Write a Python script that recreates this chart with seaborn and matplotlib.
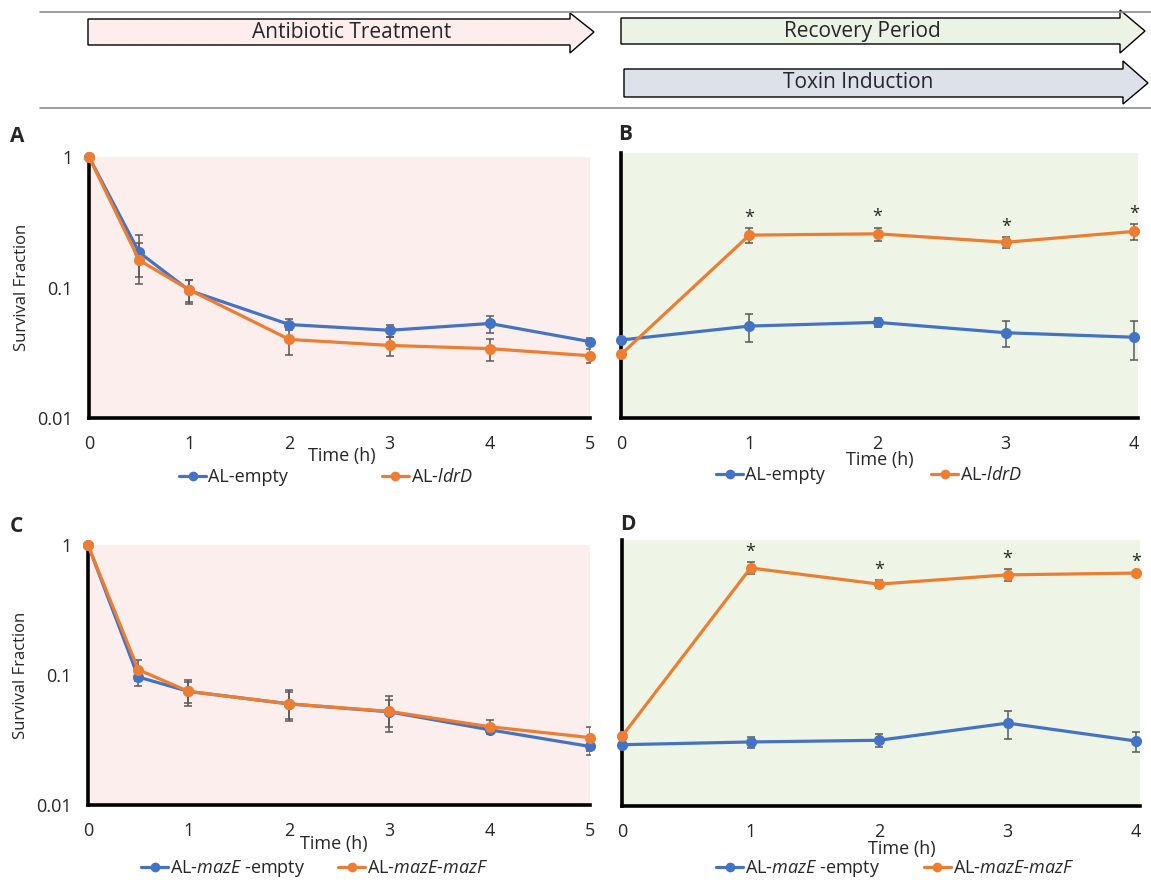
import numpy as np
import pandas as pd
import matplotlib
matplotlib.use('Agg')
import matplotlib.pyplot as plt
from matplotlib.patches import Polygon
from matplotlib.lines import Line2D
from matplotlib.ticker import FixedLocator, NullLocator
import seaborn as sns

sns.set_theme(style='white')
plt.rcParams['font.family'] = ['Open Sans', 'DejaVu Sans']
plt.rcParams['mathtext.fontset'] = 'custom'
plt.rcParams['mathtext.rm'] = 'Open Sans'
plt.rcParams['mathtext.it'] = 'Open Sans:italic'

# 時間點
t_treat = [0, 0.5, 1, 2, 3, 4, 5]
t_recov = [0, 1, 2, 3, 4]

# A: 抗生素處理 (ldrD)
a_empty = [1.0, 0.186, 0.095, 0.052, 0.047, 0.053, 0.0385]
a_empty_err = [0.0, 0.065, 0.02, 0.005, 0.005, 0.008, 0.0025]
a_ldrd = [1.0, 0.162, 0.096, 0.040, 0.036, 0.034, 0.030]
a_ldrd_err = [0.0, 0.056, 0.018, 0.0095, 0.006, 0.0065, 0.0038]

# B: 恢復期 (ldrD)
b_empty = [0.0388, 0.0494, 0.0527, 0.044, 0.0407]
b_empty_err = [0.0, 0.012, 0.004, 0.0095, 0.0135]
b_ldrd = [0.0302, 0.240, 0.2455, 0.212, 0.256]
b_ldrd_err = [0.0, 0.03, 0.027, 0.02, 0.034]

# C: 抗生素處理 (mazE/mazF)
c_empty = [1.0, 0.0966, 0.0748, 0.060, 0.0521, 0.0379, 0.0282]
c_empty_err = [0.0, 0.015, 0.014, 0.016, 0.012, 0.003, 0.004]
c_mazf = [1.0, 0.110, 0.0748, 0.060, 0.0525, 0.040, 0.033]
c_mazf_err = [0.0, 0.02, 0.017, 0.014, 0.016, 0.005, 0.007]

# D: 恢復期 (mazE/mazF)
d_empty = [0.0289, 0.0303, 0.0312, 0.042, 0.0308]
d_empty_err = [0.0, 0.003, 0.0035, 0.010, 0.0055]
d_mazf = [0.0335, 0.616, 0.466, 0.547, 0.564]
d_mazf_err = [0.0, 0.065, 0.033, 0.058, 0.01]

# 顯著差異標記 (*)
b_sig = [False, True, True, True, True]
d_sig = [False, True, True, True, True]

lbl_ldrd = ['AL-empty', 'AL-$\\mathit{ldrD}$']
lbl_maz = ['AL-$\\mathit{mazE}$ -empty', 'AL-$\\mathit{mazE}$-$\\mathit{mazF}$']

BLUE = '#4472C4'
ORANGE = '#ED7D31'
PINK = '#FDEEEE'
GREEN = '#EEF5E6'

fig = plt.figure(figsize=(11.51, 8.8), dpi=100)
W, H = 1151, 880


def px_axes(l, r, t, b):
    return fig.add_axes([l / W, 1 - b / H, (r - l) / W, (b - t) / H])


def draw_panel(ax, t, s1, e1, s2, e2, labels, bg, xmax, show_ylab, sig=None):
    df = pd.DataFrame({
        'Time': list(t) * 2,
        'Value': list(s1) + list(s2),
        'Strain': [labels[0]] * len(t) + [labels[1]] * len(t),
    })
    ax.set_facecolor(bg)
    ax.errorbar(t, s1, yerr=e1, fmt='none', ecolor='#595959', elinewidth=1.1, capsize=3, capthick=1.1, zorder=3)
    ax.errorbar(t, s2, yerr=e2, fmt='none', ecolor='#595959', elinewidth=1.1, capsize=3, capthick=1.1, zorder=3)
    sns.lineplot(data=df, x='Time', y='Value', hue='Strain', palette=[BLUE, ORANGE],
                 marker='o', markersize=8, markeredgewidth=0, linewidth=2.3,
                 ax=ax, legend=False, zorder=4, clip_on=False)
    ax.set_yscale('log')
    ax.set_ylim(0.01, 1)
    ax.set_xlim(0, xmax)
    ax.yaxis.set_major_locator(FixedLocator([0.01, 0.1, 1]))
    ax.yaxis.set_minor_locator(NullLocator())
    if show_ylab:
        ax.set_yticklabels(['0.01', '0.1', '1'])
        ax.set_ylabel('Survival Fraction', fontsize=12, labelpad=5)
    else:
        ax.set_yticklabels([])
        ax.set_ylabel('')
    ticks = [0, 1, 2, 3, 4, 5] if xmax > 4.5 else [0, 1, 2, 3, 4]
    ax.set_xticks(ticks)
    ax.set_xticklabels([str(v) for v in ticks])
    ax.tick_params(axis='both', which='major', direction='inout', length=10, width=2.2,
                   color='black', labelsize=13, pad=7)
    for side in ['top', 'right']:
        ax.spines[side].set_visible(False)
    for side in ['left', 'bottom']:
        ax.spines[side].set_color('black')
        ax.spines[side].set_linewidth(2.6)
    ax.set_xlabel('Time (h)', fontsize=13, va='center')
    if sig is not None:
        for x, y, e, s in zip(t, s2, e2, sig):
            if s:
                ax.text(x, (y + e) * 1.1, '*', ha='center', va='baseline', fontsize=13, zorder=5)
    handles = [Line2D([], [], color=BLUE, marker='o', markersize=7, lw=2.3, markeredgewidth=0),
               Line2D([], [], color=ORANGE, marker='o', markersize=7, lw=2.3, markeredgewidth=0)]
    return handles


# 各子圖位置 (像素)
axA = px_axes(89, 590, 157, 418)
axB = px_axes(621, 1138, 153, 418)
axC = px_axes(88, 590, 545, 805)
axD = px_axes(622, 1140, 540, 806)

hA = draw_panel(axA, t_treat, a_empty, a_empty_err, a_ldrd, a_ldrd_err, lbl_ldrd, PINK, 5, True)
hB = draw_panel(axB, t_recov, b_empty, b_empty_err, b_ldrd, b_ldrd_err, lbl_ldrd, GREEN, 4.03, False, b_sig)
hC = draw_panel(axC, t_treat, c_empty, c_empty_err, c_mazf, c_mazf_err, lbl_maz, PINK, 5, True)
hD = draw_panel(axD, t_recov, d_empty, d_empty_err, d_mazf, d_mazf_err, lbl_maz, GREEN, 4.03, False, d_sig)

# x 軸標題位置
axA.xaxis.set_label_coords(0.505, -0.145)
axB.xaxis.set_label_coords(0.50, -0.16)
axC.xaxis.set_label_coords(0.49, -0.15)
axD.xaxis.set_label_coords(0.54, -0.16)

# 圖例
leg_kw = dict(loc='center', ncol=2, frameon=False, fontsize=13, handlelength=1.5,
              handletextpad=0.1, borderaxespad=0, borderpad=0)
axA.legend(hA, lbl_ldrd, bbox_to_anchor=(0.473, -0.226), columnspacing=5.2, **leg_kw)
axB.legend(hB, lbl_ldrd, bbox_to_anchor=(0.48, -0.215), columnspacing=5.9, **leg_kw)
axC.legend(hC, lbl_maz, bbox_to_anchor=(0.452, -0.245), columnspacing=1.8, **leg_kw)
axD.legend(hD, lbl_maz, bbox_to_anchor=(0.527, -0.235), columnspacing=2.4, **leg_kw)

# 子圖字母
for letter, x, y in [('A', 10, 137), ('B', 618, 134), ('C', 10, 526), ('D', 620, 524)]:
    fig.text(x / W, 1 - y / H, letter, fontsize=15, fontweight='bold', va='center', ha='left')


# 上方流程箭頭
def banner_arrow(x0, xb, xtip, yb0, yb1, yh0, yh1, color, text, xt):
    ymid = (yb0 + yb1) / 2
    pts = [(x0, yb0), (xb, yb0), (xb, yh0), (xtip, ymid), (xb, yh1), (xb, yb1), (x0, yb1)]
    pts = [(x / W, 1 - y / H) for x, y in pts]
    fig.add_artist(Polygon(pts, closed=True, facecolor=color, edgecolor='black', lw=1.0,
                           transform=fig.transFigure))
    fig.text(xt / W, 1 - ymid / H, text, fontsize=15, ha='center', va='center')


for y in [12, 108]:
    fig.add_artist(Line2D([40 / W, 1], [1 - y / H, 1 - y / H], color='#8c8c8c', lw=1.2,
                          transform=fig.transFigure))

banner_arrow(88, 570, 594, 19, 45, 13, 53, '#FDEDEC', 'Antibiotic Treatment', 352)
banner_arrow(621, 1120, 1145, 18, 44, 10, 53, '#EBF3E5', 'Recovery Period', 862)
banner_arrow(624, 1123, 1148, 69, 97, 61, 104, '#DDE1E9', 'Toxin Induction', 858)

fig.savefig('out.png', dpi=100, facecolor='white')
